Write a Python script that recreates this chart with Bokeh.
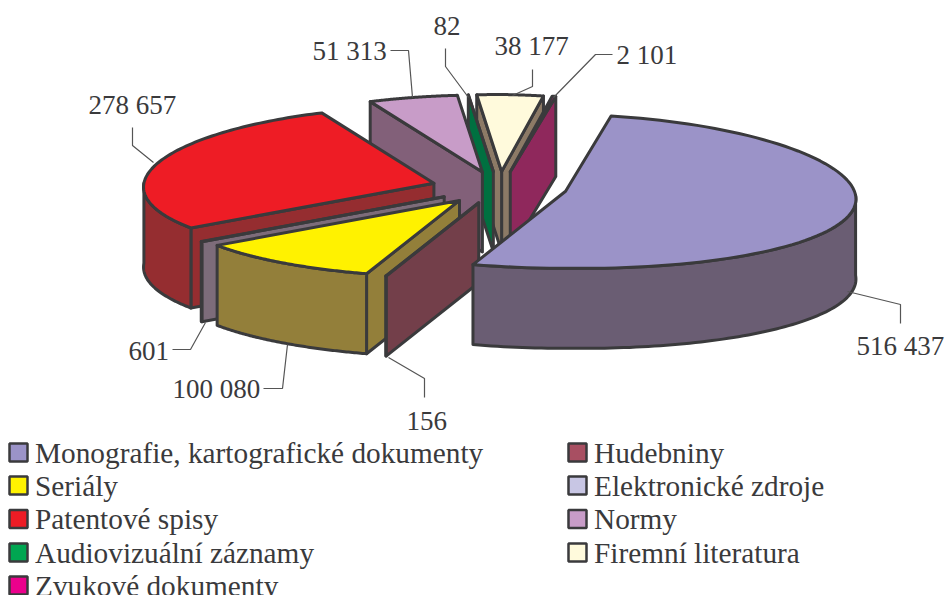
import math
from bokeh.plotting import figure
from bokeh.models import Range1d
from bokeh.core.properties import value
from bokeh.embed import file_html
from bokeh.resources import INLINE

categories = ["Monografie, kartografické dokumenty", "Hudebniny", "Seriály", "Elektronické zdroje",
              "Patentové spisy", "Normy", "Audiovizuální záznamy", "Firemní literatura", "Zvukové dokumenty"]
values = [516437, 156, 100080, 601, 278657, 51313, 82, 38177, 2101]
top_colors = ["#9b93c8", "#a84f62", "#fff200", "#c8c6e4", "#ee1c25", "#c89cc8", "#00a651", "#fffadc", "#ec008c"]
wall_colors = ["#6a5d73", "#733f4a", "#937f3a", "#7d6c7a", "#952d30", "#826079", "#007040", "#8c7a66", "#8f285c"]

INK = "#3a3a3c"
FONT = "Liberation Serif"
START = 9.5
CX, CY, RX, RY, EX, EY, DEPTH = 499, 187, 290, 77, 68, 16, 80
PERSPECTIVE = 0.05
TILT = 4

p = figure(width=945, height=595, x_range=Range1d(0, 945), y_range=Range1d(595, 0),
           output_backend="svg", toolbar_location=None, min_border=0, outline_line_color=None)
p.axis.visible = False
p.grid.visible = False
p.background_fill_color = "white"


def s(a):
    return math.sin(math.radians(a))


def c(a):
    return math.cos(math.radians(a))


total = sum(values)
slices = []
ang = START
for v in values:
    sweep = 360 * v / total
    a0, a1 = ang, ang + sweep
    mid = (a0 + a1) / 2
    slices.append((a0, a1, CX + EX * s(mid), CY - EY * c(mid)))
    ang = a1


def rim(ax, ay, a):
    return (ax + RX * s(a) * (1 - PERSPECTIVE * c(a)),
            ay - RY * c(a) + TILT * max(s(a), 0))


def arc(ax, ay, a0, a1, n=90):
    pts = [rim(ax, ay, a0 + (a1 - a0) * i / n) for i in range(n + 1)]
    return [q[0] for q in pts], [q[1] for q in pts]


def poly(xs, ys, color, width=3):
    p.patch(xs, ys, fill_color=color, line_color=INK, line_width=width, line_join="round")


order = [7, 8, 6, 5, 4, 3, 2, 1, 0]
for i in order:
    a0, a1, ax, ay = slices[i]
    wall = wall_colors[i]
    if s(a1) > 0:
        rx_, ry_ = rim(ax, ay, a1)
        poly([ax, rx_, rx_, ax], [ay, ry_, ry_ + DEPTH, ay + DEPTH], wall)
    if s(a0) < 0:
        rx_, ry_ = rim(ax, ay, a0)
        poly([ax, rx_, rx_, ax], [ay, ry_, ry_ + DEPTH, ay + DEPTH], wall)
    v0, v1 = max(a0, 90), min(a1, 270)
    if v1 > v0:
        xs, ys = arc(ax, ay, v0, v1)
        poly(xs + xs[::-1], ys + [y + DEPTH for y in ys[::-1]], wall)
    xs, ys = arc(ax, ay, a0, a1)
    poly([ax] + xs, [ay] + ys, top_colors[i])

# value labels: left x, middle y, and the elbow line that ties each to its slice
label_at = [(856, 345), (406, 420), (172, 388), (128, 350), (88, 104), (312, 50), (433, 25), (494, 45), (616, 54)]
leaders = [
    [(847, 291), (900, 304), (900, 323)],
    [(388, 357), (424, 378), (424, 397)],
    [(263, 388), (282, 388), (287, 344)],
    [(172, 349), (190, 349), (205, 322)],
    [(132, 127), (132, 145), (153, 162)],
    [(390, 50), (408, 50), (412, 97)],
    [(445, 48), (445, 66), (468, 97)],
    [(532, 69), (532, 86), (512, 95)],
    [(612, 54), (595, 54), (553, 97)],
]
for pts in leaders:
    p.line([q[0] for q in pts], [q[1] for q in pts], line_color="#555555", line_width=1.2)
p.text([q[0] for q in label_at], [q[1] for q in label_at],
       text=[f"{v:,}".replace(",", " ") for v in values],
       text_font=value(FONT), text_font_size="27px", text_color=INK,
       text_baseline="middle", text_align="left")

# legend
col_x = [8, 567]
row_y = [452, 485, 518.5, 552, 585]
for i, name in enumerate(categories):
    x0 = col_x[i % 2]
    y = row_y[i // 2]
    p.quad(left=[x0 + 1], right=[x0 + 19], top=[y - 9], bottom=[y + 9],
           fill_color=top_colors[i], line_color=INK, line_width=2.5)
    p.text([x0 + 26.5], [y], text=[name], text_font=value(FONT), text_font_size="29.3px",
           text_color=INK, text_baseline="middle", text_align="left")

open("out.html", "w").write(file_html(p, INLINE))
